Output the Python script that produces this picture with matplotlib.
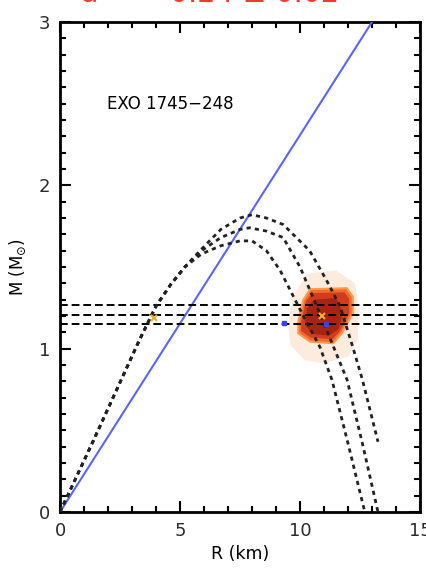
import numpy as np
import matplotlib.pyplot as plt
from matplotlib.ticker import MultipleLocator

plt.rcParams['font.family'] = ['DejaVu Sans']

# mass-radius constraint curves
r_outer = [0, 1.4, 3.3, 4.0, 4.6, 5.2, 5.9, 6.7, 7.5, 8.0, 8.6, 9.3, 10.4, 11.1, 11.67, 12.2, 12.6, 13.25]
m_outer = [0, 0.44, 1.05, 1.26, 1.39, 1.50, 1.61, 1.73, 1.80, 1.82, 1.80, 1.76, 1.60, 1.42, 1.26, 1.01, 0.81, 0.43]
r_mid = [0, 1.4, 3.3, 4.0, 4.6, 5.2, 5.9, 6.7, 7.5, 7.9, 8.6, 9.3, 10.0, 10.7, 11.4, 11.96, 12.6, 13.25]
m_mid = [0, 0.44, 1.05, 1.26, 1.39, 1.50, 1.60, 1.68, 1.73, 1.74, 1.72, 1.68, 1.50, 1.26, 1.01, 0.81, 0.42, 0.0]
r_inner = [0, 1.4, 3.3, 4.0, 4.6, 5.2, 5.9, 6.7, 7.5, 8.0, 8.6, 9.17, 10.0, 10.83, 11.33, 12.0, 12.7]
m_inner = [0, 0.44, 1.05, 1.26, 1.39, 1.50, 1.58, 1.63, 1.66, 1.66, 1.60, 1.48, 1.24, 1.01, 0.81, 0.42, 0.0]

# horizontal mass lines
m_lines = [1.265, 1.207, 1.15]

# blue limit line
r_blue = [0, 13.0]
m_blue = [0, 3.0]

# probability region outlines
r_halo = [9.7, 10.3, 11.5, 12.3, 12.45, 12.4, 12.0, 11.0, 10.2, 9.6, 9.5]
m_halo = [1.32, 1.46, 1.48, 1.40, 1.25, 1.05, 0.95, 0.91, 0.93, 1.02, 1.15]
r_orange = [10.42, 11.95, 12.2, 12.2, 11.74, 11.39, 10.42, 9.93, 9.93, 10.14]
m_orange = [1.364, 1.370, 1.318, 1.217, 1.094, 1.033, 1.043, 1.094, 1.165, 1.298]
r_red = [10.5, 11.85, 12.05, 12.05, 11.65, 11.35, 10.45, 10.05, 10.05, 10.25]
m_red = [1.34, 1.345, 1.305, 1.215, 1.105, 1.058, 1.068, 1.108, 1.168, 1.29]
r_core = [10.6, 11.5, 11.8, 11.6, 11.2, 10.5, 10.2, 10.3]
m_core = [1.30, 1.31, 1.22, 1.12, 1.08, 1.09, 1.15, 1.25]

# points
r_sq = [9.33, 11.1]
m_sq = [1.16, 1.15]
r_star = [10.9, 3.9]
m_star = [1.20, 1.19]

fig = plt.figure(figsize=(4.26, 5.74), dpi=100)
ax = fig.add_axes([60/426, 1-512/574, 360/426, 490/574])

ax.fill(r_halo, m_halo, color='#fde8d6', alpha=0.8, lw=0, zorder=1)
ax.fill(r_orange, m_orange, facecolor='#f46a2c', edgecolor='#ff9a4c', lw=1.5, zorder=2)
ax.fill(r_red, m_red, color='#d23c1e', lw=0, zorder=2)
ax.fill(r_core, m_core, color='#a82412', lw=0, zorder=2)

ax.plot(r_blue, m_blue, color='#5865ff', lw=1.5, zorder=3)
for m in m_lines:
    ax.axhline(m, color='black', lw=1.4, ls=(0, (4, 2)), zorder=4)
for r, m in [(r_outer, m_outer), (r_mid, m_mid), (r_inner, m_inner)]:
    ax.plot(r, m, color='#222222', lw=2.0, ls=(0, (1.5, 1.5)), zorder=4)

ax.plot(r_sq, m_sq, 's', color='#3344ff', ms=3.5, zorder=5)
ax.plot(r_star, m_star, 'x', color='#f0b020', ms=5, mew=1.5, zorder=5)

ax.text(1.95, 2.5, 'EXO 1745\u2212248', fontsize=12, va='center', ha='left')

ax.set_xlim(0, 15)
ax.set_ylim(0, 3)
ax.xaxis.set_major_locator(MultipleLocator(5))
ax.xaxis.set_minor_locator(MultipleLocator(1))
ax.yaxis.set_major_locator(MultipleLocator(1))
ax.yaxis.set_minor_locator(MultipleLocator(0.1))
ax.tick_params(which='both', direction='in', top=True, right=True, width=1.5)
ax.tick_params(which='major', length=8, labelsize=13, pad=7, labelcolor='#2a2a2a')
ax.tick_params(which='minor', length=4)
for s in ax.spines.values():
    s.set_linewidth(2)

ax.set_xlabel('R (km)', fontsize=12.5, labelpad=4)
ax.set_ylabel(r'M (M$_{\odot}$)', fontsize=12, labelpad=8)

fig.text(80/426, 1-2.5/574, 'a', color='#f53a2c', fontsize=20.5, va='baseline')
fig.text(170/426, 1-2.5/574, '0.24 \u00b1 0.02', color='#f53a2c', fontsize=20.5, va='baseline')

fig.savefig('out.png', dpi=100)
